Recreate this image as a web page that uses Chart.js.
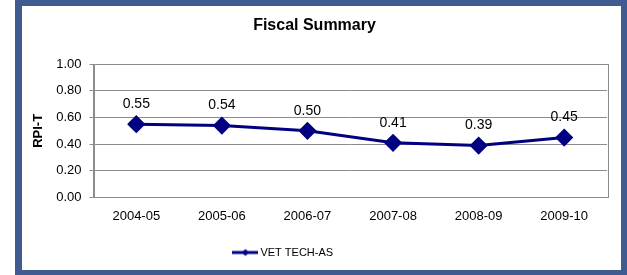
<!DOCTYPE html>
<html>
<head>
<meta charset="utf-8">
<script src="https://cdn.jsdelivr.net/npm/chart.js@4/dist/chart.umd.min.js"></script>
<style>
  html, body { margin: 0; padding: 0; background: #fff; }
  #frame {
    position: absolute; left: 15px; top: 0; width: 612px; height: 275px;
    box-sizing: border-box; background: #fff;
    border-style: solid; border-color: #3f5b8f;
    border-width: 6px 6px 5px 7px;
  }
  #wrap { position: absolute; left: 0; top: 0; width: 599px; height: 264px; }
</style>
</head>
<body>
<div id="frame"><div id="wrap"><canvas id="chart"></canvas></div></div>
<script>
const years = ["2004-05", "2005-06", "2006-07", "2007-08", "2008-09", "2009-10"];
const rpiValues = [0.55, 0.54, 0.50, 0.41, 0.39, 0.45];
const seriesName = "VET TECH-AS";
const yMin = 0, yMax = 1, yStep = 0.2;

const navy = "#000080";
const gridGray = "#8c8c8c";
const fontFamily = "'Liberation Sans', Arial, sans-serif";

// legend marker: line with a small diamond
function legendMarker() {
  const c = document.createElement("canvas");
  c.width = 26; c.height = 10;
  const g = c.getContext("2d");
  g.strokeStyle = navy; g.lineWidth = 3;
  g.beginPath(); g.moveTo(0, 5); g.lineTo(26, 5); g.stroke();
  g.fillStyle = navy;
  g.beginPath(); g.moveTo(13, 1.5); g.lineTo(16.5, 5); g.lineTo(13, 8.5); g.lineTo(9.5, 5); g.closePath(); g.fill();
  return c;
}

const plotBorder = {
  id: "plotBorder",
  afterDraw(chart) {
    const { ctx, chartArea: a } = chart;
    ctx.save();
    ctx.strokeStyle = gridGray; ctx.lineWidth = 1;
    ctx.strokeRect(Math.round(a.left) + 0.5, Math.round(a.top) + 0.5,
      Math.round(a.right - a.left), Math.round(a.bottom - a.top));
    ctx.restore();
  }
};

const valueLabels = {
  id: "valueLabels",
  afterDatasetsDraw(chart) {
    const { ctx } = chart;
    const meta = chart.getDatasetMeta(0);
    ctx.save();
    ctx.font = "14px " + fontFamily;
    ctx.fillStyle = "#000";
    ctx.textAlign = "center";
    ctx.textBaseline = "middle";
    meta.data.forEach((pt, i) => {
      ctx.fillText(rpiValues[i].toFixed(2), pt.x, pt.y - 20);
    });
    ctx.restore();
  }
};

// Excel put the legend a bit left of centre
const legendShift = {
  id: "legendShift",
  afterLayout(chart) {
    chart.legend.left -= 30;
    chart.legend.right -= 30;
  }
};

new Chart(document.getElementById("chart"), {
  type: "line",
  data: {
    labels: years,
    datasets: [{
      label: seriesName,
      data: rpiValues,
      borderColor: navy,
      backgroundColor: navy,
      borderWidth: 3,
      pointStyle: "rectRot",
      pointRadius: 7,
      pointHoverRadius: 7,
      pointBackgroundColor: navy,
      pointBorderColor: navy,
      tension: 0,
    }],
  },
  options: {
    responsive: true,
    maintainAspectRatio: false,
    animation: false,
    layout: { padding: { left: 0, right: 14, top: 0, bottom: 2 } },
    plugins: {
      title: {
        display: true,
        text: "Fiscal Summary",
        color: "#000",
        font: { family: fontFamily, size: 16, weight: "bold" },
        padding: { top: 10, bottom: 29 },
      },
      legend: {
        position: "bottom",
        labels: {
          usePointStyle: true,
          pointStyle: legendMarker(),
          pointStyleWidth: 19,
          color: "#000",
          font: { family: fontFamily, size: 11 },
          padding: 10,
        },
      },
      tooltip: { enabled: false },
    },
    scales: {
      x: {
        offset: true,
        grid: { display: false, drawTicks: false },
        border: { color: gridGray },
        ticks: { color: "#000", font: { family: fontFamily, size: 13 }, padding: 11 },
        afterFit(scale) { scale.height = 39.5; },
      },
      y: {
        min: yMin,
        max: yMax,
        grid: { color: gridGray, tickLength: 4 },
        border: { color: gridGray },
        ticks: {
          stepSize: yStep,
          color: "#000",
          font: { family: fontFamily, size: 13 },
          padding: 8,
          callback: v => v.toFixed(2),
        },
        title: {
          display: true,
          text: "RPI-T",
          color: "#000",
          font: { family: fontFamily, size: 13, weight: "bold" },
          padding: { top: 9, bottom: 0 },
        },
        afterFit(scale) { scale.width = 71.5; },
      },
    },
  },
  plugins: [plotBorder, valueLabels, legendShift],
});
</script>
</body>
</html>
